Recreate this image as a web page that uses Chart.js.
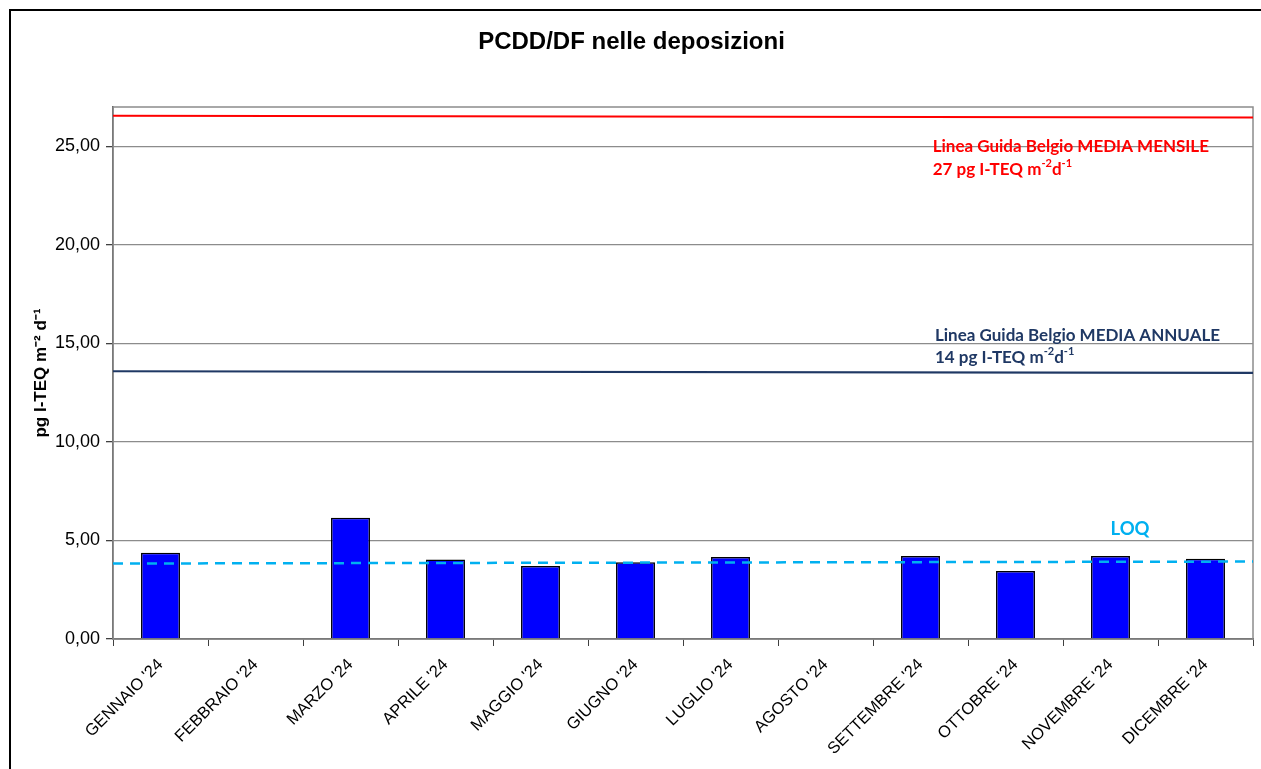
<!DOCTYPE html>
<html>
<head>
<meta charset="utf-8">
<script src="https://cdn.jsdelivr.net/npm/chart.js@4/dist/chart.umd.min.js"></script>
<style>
  html, body { margin: 0; padding: 0; background: #ffffff; overflow: hidden; }
  #wrap { position: absolute; left: 0; top: 0; width: 1261px; height: 769px; }
</style>
</head>
<body>
<div id="wrap"><canvas id="c" width="1261" height="769"></canvas></div>
<script>
// ---- data ----
const categories = ["GENNAIO '24", "FEBBRAIO '24", "MARZO '24", "APRILE '24", "MAGGIO '24", "GIUGNO '24",
                    "LUGLIO '24", "AGOSTO '24", "SETTEMBRE '24", "OTTOBRE '24", "NOVEMBRE '24", "DICEMBRE '24"];
const depositionValues = [4.38, null, 6.15, 4.04, 3.70, 3.90, 4.16, null, 4.21, 3.45, 4.21, 4.07];
const yTickValues = [0, 5, 10, 15, 20, 25];
const yMax = 27;
// reference lines: value at left edge, value at right edge of the plot
const guideMonthly = [26.55, 26.47];
const guideAnnual = [13.59, 13.51];
const loqLine = [3.83, 3.93];
const titleText = "PCDD/DF nelle deposizioni";
const yTitleText = "pg I-TEQ m\u207B\u00B2 d\u207B\u00B9";
const monthlyLabel = [[["Linea Guida Belgio MEDIA MENSILE", false]], [["27 pg I-TEQ m", false], ["-2", true], ["d", false], ["-1", true]]];
const annualLabel = [[["Linea Guida Belgio MEDIA ANNUALE", false]], [["14 pg I-TEQ m", false], ["-2", true], ["d", false], ["-1", true]]];
const loqLabel = [[["LOQ", false]]];

const fmt = v => v.toFixed(2).replace('.', ',');

function drawRich(ctx, lines, x, y, lineGap, size, color) {
  ctx.save();
  ctx.fillStyle = color;
  ctx.textBaseline = 'middle';
  ctx.textAlign = 'left';
  lines.forEach((segs, i) => {
    let cx = x;
    const cy = y + i * lineGap;
    segs.forEach(([t, sup]) => {
      if (sup) {
        ctx.font = 'bold ' + Math.round(size * 0.62) + 'px Lato, "Open Sans", sans-serif';
        ctx.fillText(t, cx, cy - size * 0.33);
      } else {
        ctx.font = 'bold ' + size + 'px Lato, "Open Sans", sans-serif';
        ctx.fillText(t, cx, cy);
      }
      cx += ctx.measureText(t).width;
    });
  });
  ctx.restore();
}

const decorPlugin = {
  id: 'decor',
  beforeDraw(chart) {
    const ctx = chart.ctx;
    ctx.save();
    ctx.fillStyle = '#ffffff';
    ctx.fillRect(0, 0, chart.width, chart.height);
    // outer frame
    ctx.strokeStyle = '#000000';
    ctx.lineWidth = 2;
    ctx.beginPath();
    ctx.moveTo(10, chart.height + 2);
    ctx.lineTo(10, 10);
    ctx.lineTo(chart.width + 2, 10);
    ctx.stroke();
    ctx.restore();
  },
  beforeDatasetsDraw(chart) {
    const {ctx, chartArea: a} = chart;
    ctx.save();
    ctx.strokeStyle = '#8c8c8c';
    ctx.lineWidth = 1.5;
    ctx.strokeRect(a.left, a.top, a.right - a.left, a.bottom - a.top);
    ctx.restore();
  },
  afterDatasetsDraw(chart) {
    const {ctx, chartArea: a, scales: {y}} = chart;
    const seg = (vals, color, width, dash) => {
      ctx.save();
      ctx.strokeStyle = color;
      ctx.lineWidth = width;
      ctx.setLineDash(dash || []);
      ctx.beginPath();
      ctx.moveTo(a.left, y.getPixelForValue(vals[0]));
      ctx.lineTo(a.right, y.getPixelForValue(vals[1]));
      ctx.stroke();
      ctx.restore();
    };
    seg(guideMonthly, '#ff0000', 2);
    seg(guideAnnual, '#1f3864', 2.2);
    seg(loqLine, '#00b0f0', 2.5, [10, 7]);
    const w = a.right - a.left;
    drawRich(ctx, monthlyLabel, a.left + w * 0.719, y.getPixelForValue(25.0), 23, 17, '#ff0000');
    drawRich(ctx, annualLabel, a.left + w * 0.721, y.getPixelForValue(15.4), 22, 17, '#1f3864');
    drawRich(ctx, loqLabel, a.left + w * 0.875, y.getPixelForValue(5.58), 22, 18.5, '#00b0f0');
  }
};

new Chart(document.getElementById('c'), {
  type: 'bar',
  data: {
    labels: categories,
    datasets: [{
      data: depositionValues,
      backgroundColor: '#0000ff',
      borderColor: '#000000',
      borderWidth: 1.5,
      barPercentage: 0.41,
      categoryPercentage: 1.0
    }]
  },
  options: {
    responsive: false,
    animation: false,
    layout: { padding: { left: 10, right: 8, top: 0, bottom: 0 } },
    plugins: {
      legend: { display: false },
      tooltip: { enabled: false },
      title: {
        display: true,
        text: titleText,
        color: '#000000',
        font: { family: 'Liberation Sans, Arial, sans-serif', size: 24, weight: 'bold', lineHeight: 1.2 },
        padding: { top: 28, bottom: 50.2 }
      }
    },
    scales: {
      x: {
        grid: { display: true, drawOnChartArea: false, offset: true, tickLength: 7, color: '#404040', tickColor: '#404040' },
        border: { display: true, color: '#404040', width: 1.5 },
        ticks: {
          autoSkip: false, minRotation: 45, maxRotation: 45, padding: 9,
          color: '#000000',
          font: { family: 'Liberation Sans, Arial, sans-serif', size: 16.5 }
        },
        afterFit(s) { s.height = 130; }
      },
      y: {
        min: 0, max: yMax,
        afterBuildTicks(s) { s.ticks = yTickValues.map(v => ({ value: v })); },
        grid: { color: '#8c8c8c', lineWidth: 1.3, tickLength: 7, tickColor: '#404040' },
        border: { display: true, color: '#404040', width: 1.5 },
        ticks: {
          color: '#000000', padding: 6,
          font: { family: 'Liberation Sans, Arial, sans-serif', size: 18 },
          callback: v => fmt(v)
        },
        title: {
          display: true, text: yTitleText, color: '#000000',
          font: { family: 'Liberation Sans, Arial, sans-serif', size: 17, weight: 'bold' },
          padding: { top: 21, bottom: 0 }
        },
        afterFit(s) { s.width = 103; }
      }
    }
  },
  plugins: [decorPlugin]
});
</script>
</body>
</html>
